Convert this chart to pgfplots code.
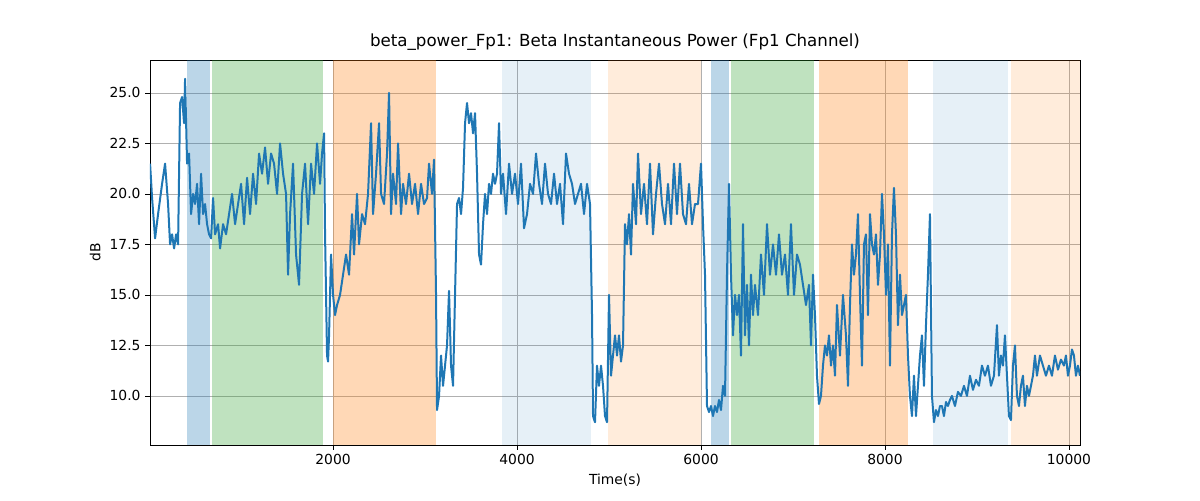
\documentclass[border=0pt]{standalone}
\usepackage{pgfplots}
\usepackage{pgfplotstable}
\pgfplotsset{compat=1.18}
\usepackage{fontspec}
\setmainfont{DejaVu Sans}
\definecolor{tblue}{HTML}{1F77B4}
\definecolor{tgreen}{HTML}{2CA02C}
\definecolor{torange}{HTML}{FF7F0E}
\pgfplotstableread{
px v
150 21.5
152 19.8
155 17.8
158 19
162 20.5
165 21.5
168 19.5
170 17.5
172 18
174 17.3
176 18
178 17.5
180 24.5
182 24.8
184 23.5
185 25.7
187 21.5
189 22
191 19
193 20
195 19.5
197 20.5
199 18.5
201 21
203 19
205 19.5
207 18.5
209 18
211 17.8
213 19.8
215 18
218 18.5
220 17.3
223 18.5
226 18
229 19
232 20
235 18.5
238 19.5
241 20.5
244 18.5
247 20.8
250 19
253 21
256 19.5
259 22
262 21
265 22.3
268 20.5
271 22
274 21.5
277 20
280 22.5
283 21
286 20
288 16
290 19
293 21.5
296 17
299 15.5
302 20
305 21.5
308 18.5
311 21.5
314 20
317 22.5
320 20.5
322 22
324 23
325 18
327 12
328 11.7
329 13
331 17
333 15
335 14
337 14.5
340 15
343 16
346 17
349 16
352 19
354 17
357 20
359 17.5
362 19
365 18.5
368 20
371 23.5
373 19
376 21
379 23.5
381 20
384 19.5
387 22
389 25
391 19
393 21
396 19.5
398 22.5
401 19
403 20.5
406 19.5
409 21
412 19.5
415 20.5
418 19
421 20.5
424 19.5
427 19.8
429 21.5
432 20
434 21.7
436 15
437 9.3
439 10
441 12
443 10.5
445 11.5
447 12.5
449 15.2
451 11.5
453 10.5
455 15
457 19.5
459 19.8
461 19
463 20.3
465 23.5
467 24.5
469 23.5
471 24
473 23
475 24
477 21
479 17
481 16.5
483 18.5
485 20
487 19
489 20.5
491 20
493 21
495 20.5
497 21
499 23.5
501 20
503 21
506 19
509 21.5
512 20
515 21
518 19.5
521 21.5
524 18.3
527 19
530 20.5
533 20
536 22
539 20.5
542 19.5
545 21.5
548 20
551 19.5
554 21
557 19.5
560 20.5
563 18.5
566 22
569 21
572 20.5
575 19.5
578 20
581 20.5
584 19
587 20.5
590 19.5
592 14
593 9.0
595 8.7
597 11.5
599 10.5
601 11.5
603 10.5
605 9
607 8.7
609 15
611 11
613 12
615 13
617 12
619 13
621 11.7
623 12.5
625 18.5
627 17.5
629 19
631 17
633 20.5
636 18.5
638 22
641 19
644 20.5
647 18.5
650 21.5
653 18
656 20
659 21.5
662 19.5
665 18.5
668 20.5
671 18.5
674 21.5
677 19
680 21.5
683 19
686 18.5
689 20.5
692 18.5
695 19.5
698 19.5
701 21.5
703 18.5
705 16
707 9.5
709 9.2
711 9.5
713 9
715 9.5
717 9.2
719 9.8
721 9.3
723 10.5
725 10
727 16
729 20.5
731 16
733 13
735 15
737 14
739 15
741 12
743 18.5
745 13
747 15.5
749 12.5
751 16
753 14
755 15.5
758 14
761 17
764 15
767 18.5
770 16
773 17.5
776 16
779 18
782 16
785 17
788 15
791 18.5
794 15
797 17
800 16.5
803 15.5
806 14.5
809 15.5
811 12.5
813 16
815 14
817 11
819 9.6
821 10
823 11.5
825 12.5
827 12
829 13
831 11.5
833 12.5
835 11
837 14.5
840 12
843 15
846 13
848 10.5
850 14.5
852 17.5
854 16
856 17
858 19
860 15
862 11.5
864 17.5
866 18
868 14
870 19
872 17.5
874 17
876 18
878 15.5
880 17
882 20
884 18
886 15
888 17.5
890 11.5
892 18
894 20.3
896 18
898 13.5
900 16
902 14
904 14.5
906 15
908 12
910 10
912 9
914 11
916 9
918 10.5
920 12
922 13
924 10.5
926 13.5
928 16
930 19
932 10
934 8.7
936 9.3
938 9
940 9.5
942 9.5
944 9
946 9.7
948 9.5
950 9.8
952 10
955 9.5
958 10.2
961 10
964 10.5
967 10
970 11
973 10.3
976 10.8
979 10.5
982 11.5
985 11
988 11.5
991 10.5
994 11
997 13.5
999 11
1001 12
1003 11.5
1005 13
1007 11
1009 9
1011 8.8
1013 11.5
1015 12.5
1017 10
1019 9.5
1021 10.5
1023 11
1025 9.5
1027 10.5
1029 10
1031 10.5
1033 11
1035 12
1037 11
1040 12
1043 11.5
1046 11
1049 11.5
1052 11
1055 12
1058 11.3
1061 11.8
1064 11.5
1066 12
1068 11
1070 11.5
1072 12.3
1074 12
1076 11
1078 11.5
1080 11
}\data
\begin{document}
\begin{tikzpicture}
\begin{axis}[
  at={(0,0)}, anchor=south west,
  scale only axis, width=697.5pt, height=288.75pt,
  xmin=10, xmax=10120, ymin=7.57, ymax=26.63,
  xtick={2000,4000,6000,8000,10000},
  ytick={10,12.5,15,17.5,20,22.5,25},
  scaled ticks=false,
  xtick pos=bottom, ytick pos=left,
  yticklabel style={/pgf/number format/fixed,/pgf/number format/fixed zerofill,/pgf/number format/precision=1},
  xticklabel style={/pgf/number format/1000 sep={}},
  /pgf/number format/assume math mode=true,
  ticklabel style={font=\fontsize{10.4}{12}\selectfont},
  label style={font=\fontsize{10.4}{12}\selectfont},
  title style={font=\fontsize{12.5}{15}\selectfont, yshift=-2pt},
  title={beta\_power\_Fp1: Beta Instantaneous Power (Fp1 Channel)},
  xlabel={Time(s)}, ylabel={dB},
  grid=major, major grid style={color={rgb,255:red,176;green,176;blue,176}, line width=0.6pt},
  tick align=outside, tick style={black, major tick length=3.6pt},
]
\def\sp#1#2#3#4{\fill[#3, opacity=#4] (axis cs:#1,7.57) rectangle (axis cs:#2,26.63);}
\sp{413}{663}{tblue}{0.3}
\sp{685}{1891}{tgreen}{0.3}
\sp{2000}{3120}{torange}{0.3}
\sp{3837}{4804}{tblue}{0.11}
\sp{4989}{6000}{torange}{0.15}
\sp{6109}{6304}{tblue}{0.3}
\sp{6326}{7228}{tgreen}{0.3}
\sp{7283}{8250}{torange}{0.3}
\sp{8522}{9337}{tblue}{0.11}
\sp{9370}{10120}{torange}{0.15}
\addplot[tblue, line width=1.5pt, mark=none, line join=round] table[x expr={(\thisrow{px}-149)/0.092}, y=v] {\data};
\end{axis}
\path[use as bounding box] (-112.5pt,-41.25pt) rectangle (787.5pt,333.75pt);
\end{tikzpicture}
\end{document}
